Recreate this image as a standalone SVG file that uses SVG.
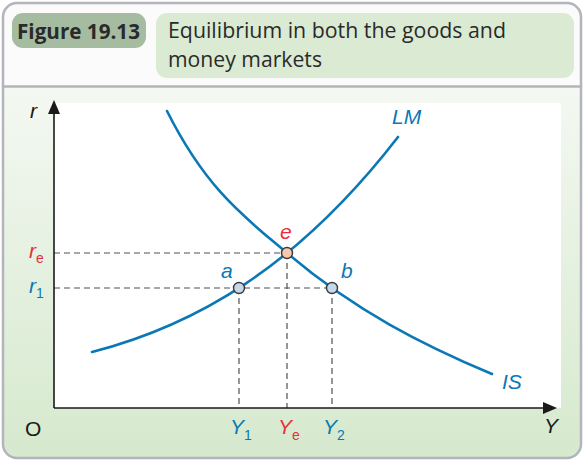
<svg xmlns="http://www.w3.org/2000/svg" width="584" height="461" viewBox="0 0 584 461">
<defs>
<linearGradient id="bg" x1="0" y1="0" x2="0" y2="1">
<stop offset="0" stop-color="#f4f8f2"/>
<stop offset="1" stop-color="#d5e9cd"/>
</linearGradient>
<clipPath id="panelclip"><rect x="3" y="3" width="578" height="455" rx="14"/></clipPath>
<style>
.lbl{font-family:"Liberation Sans",Arial,sans-serif;font-style:italic;font-size:21px}
.sub{font-family:"Liberation Sans",Arial,sans-serif;font-size:14px}
.up{font-family:"Liberation Sans",Arial,sans-serif;font-size:21px}
.blue{fill:#0a78b4}
.red{fill:#e8303a}
.curve{fill:none;stroke:#0a78b4;stroke-width:2.6;stroke-linecap:round}
.dash{fill:none;stroke:#505050;stroke-width:1.2;stroke-dasharray:6 4}
.axis{fill:none;stroke:#1a1a1a;stroke-width:1.6}
.pt{stroke:#3a3a3a;stroke-width:1.4}
.hdr{font-family:"Open Sans","Noto Sans",sans-serif;font-size:21px;fill:#2a2a2a}
</style>
</defs>
<g id="frame">
<g clip-path="url(#panelclip)">
<rect x="0" y="0" width="584" height="87" fill="#fbfbfb"/>
<rect x="0" y="87" width="584" height="374" fill="url(#bg)"/>
</g>
<line x1="3" y1="86.5" x2="581" y2="86.5" stroke="#b4b4bc" stroke-width="2.5"/>
<rect x="3" y="3" width="578" height="455" rx="14" fill="none" stroke="#b4b4bc" stroke-width="2.5"/>
</g>
<g id="header">
<rect x="12" y="13" width="134" height="35" rx="11" fill="#a5bca1"/>
<text x="17" y="38.5" class="hdr" font-weight="bold" textLength="123" lengthAdjust="spacingAndGlyphs">Figure 19.13</text>
<rect x="156" y="13" width="418" height="65" rx="11" fill="#daead3"/>
<text x="168" y="38" class="hdr" textLength="338" lengthAdjust="spacingAndGlyphs">Equilibrium in both the goods and</text>
<text x="168" y="67" class="hdr" textLength="154" lengthAdjust="spacingAndGlyphs">money markets</text>
</g>
<rect id="plotarea" x="54" y="103" width="507" height="305" fill="#ffffff"/>
<g id="connectors">
<line class="dash" x1="54" y1="253" x2="287" y2="253"/>
<line class="dash" x1="54" y1="288" x2="332" y2="288"/>
<line class="dash" x1="239" y1="288" x2="239" y2="408"/>
<line class="dash" x1="287" y1="253" x2="287" y2="408"/>
<line class="dash" x1="332" y1="288" x2="332" y2="408"/>
<path id="LM" class="curve" d="M92,352 C194,325.6 296,268.9 398,137"/>
<path id="IS" class="curve" d="M167,111 C207,191 247,219 287,253 C355.3,311.1 423.7,345.3 492,374"/>
<line class="axis" x1="54" y1="408" x2="54" y2="110"/>
<line class="axis" x1="54" y1="408" x2="548" y2="408"/>
<polygon points="54,100 48,114 60,114" fill="#1a1a1a"/>
<polygon points="557,408 543,402 543,414" fill="#1a1a1a"/>
</g>
<g id="point-e"><circle class="pt" cx="287" cy="253" r="5.5" fill="#f8c8ae"/><text class="lbl red" x="280" y="239">e</text></g>
<g id="point-a"><circle class="pt" cx="239" cy="288" r="5.5" fill="#c6d8ea"/><text class="lbl blue" x="221" y="278">a</text></g>
<g id="point-b"><circle class="pt" cx="332" cy="288" r="5.5" fill="#c6d8ea"/><text class="lbl blue" x="341" y="278">b</text></g>
<g id="labels">
<text class="lbl blue" x="392" y="124">LM</text>
<text class="lbl blue" x="502" y="389">IS</text>
<text class="lbl" x="30" y="118" fill="#1a1a1a">r</text>
<text class="lbl red" x="29" y="258">r</text><text class="sub red" x="36" y="263">e</text>
<text class="lbl blue" x="29" y="293">r</text><text class="sub blue" x="36" y="298">1</text>
<text class="up" x="25" y="436" fill="#1a1a1a">O</text>
<text class="lbl" x="544" y="433" fill="#1a1a1a">Y</text>
<text class="lbl blue" x="230" y="434">Y</text><text class="sub blue" x="244" y="440">1</text>
<text class="lbl red" x="278" y="434">Y</text><text class="sub red" x="292" y="440">e</text>
<text class="lbl blue" x="323" y="434">Y</text><text class="sub blue" x="337" y="440">2</text>
</g>
</svg>
